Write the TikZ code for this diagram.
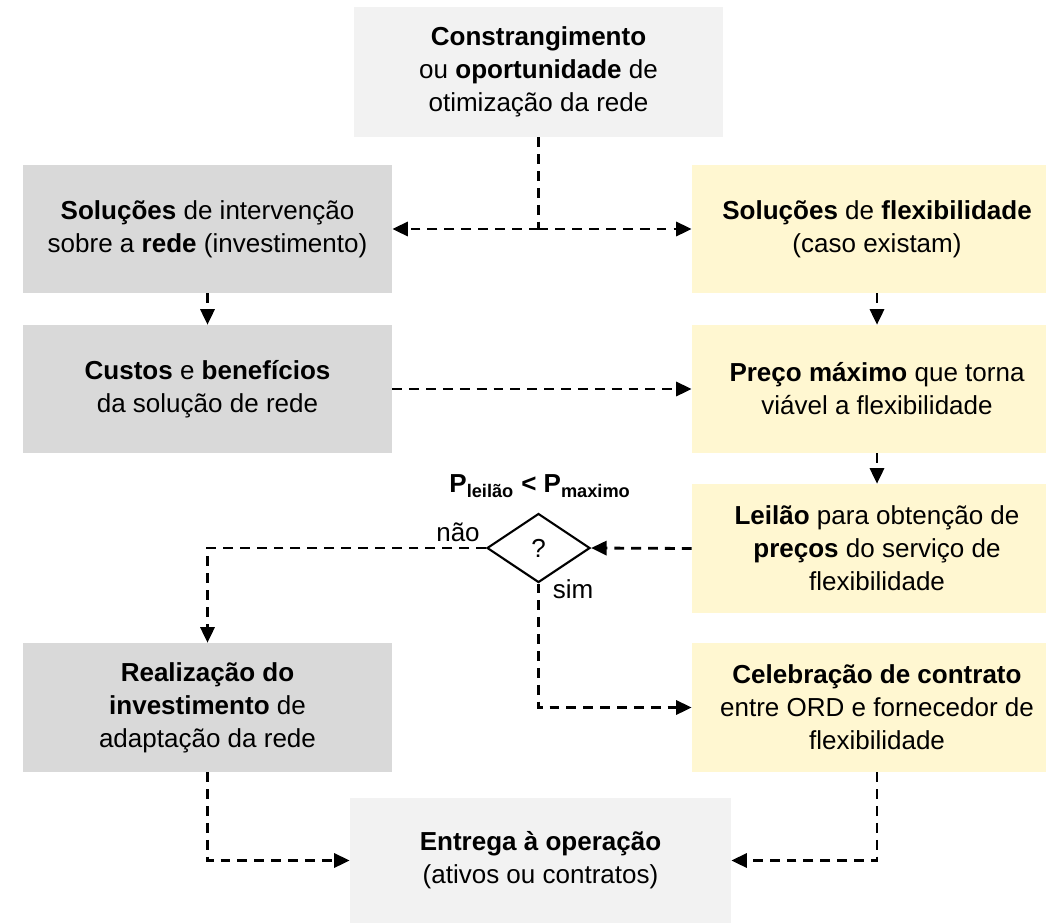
\documentclass[tikz,border=0pt]{standalone}
\usepackage{fontspec}
\setmainfont{Liberation Sans}
\usetikzlibrary{arrows.meta,shapes.geometric}
\definecolor{netgray}{HTML}{D9D9D9}
\definecolor{endgray}{HTML}{F2F2F2}
\definecolor{flexyellow}{HTML}{FFF7D1}
\tikzset{
  box/.style={minimum width=9.225cm, minimum height=3.2cm, align=center, inner sep=0pt},
  netbox/.style={box, fill=netgray},
  flexbox/.style={box, fill=flexyellow, minimum width=9.25cm},
  endbox/.style={box, fill=endgray},
  link/.style={line width=2pt, dash pattern=on 7pt off 5pt, -{Triangle[length=11pt,width=10pt]}}
}
\begin{document}
\begin{tikzpicture}[x=0.025cm, y=-0.025cm,
    every node/.style={font=\fontsize{18.5}{23.5}\selectfont}]
  \clip (0,0) rectangle (1046,923);
  % boxes
  \node[endbox, minimum height=3.25cm] (origem) at (538.5,72)
    {\textbf{Constrangimento}\\ou \textbf{oportunidade} de\\otimização da rede};
  \node[netbox] (rede) at (207.5,229)
    {\textbf{Soluções} de intervenção\\sobre a \textbf{rede} (investimento)};
  \node[flexbox] (flex) at (877,229)
    {\textbf{Soluções} de \textbf{flexibilidade}\\(caso existam)};
  \node[netbox] (custos) at (207.5,389)
    {\textbf{Custos} e \textbf{benefícios}\\da solução de rede};
  \node[flexbox] (preco) at (877,389)
    {\textbf{Preço máximo} que torna\\viável a flexibilidade};
  \node[flexbox, minimum height=3.225cm] (leilao) at (877,548.5)
    {\textbf{Leilão} para obtenção de\\\textbf{preços} do serviço de\\flexibilidade};
  \node[netbox, minimum height=3.225cm] (realiz) at (207.5,707.5)
    {\textbf{Realização do}\\\textbf{investimento} de\\adaptação da rede};
  \node[flexbox, minimum height=3.225cm] (contrato) at (877,707.5)
    {\textbf{Celebração de contrato}\\entre ORD e fornecedor de\\flexibilidade};
  \node[endbox, minimum width=9.525cm, minimum height=3.125cm] (entrega) at (540.5,860.5)
    {\textbf{Entrega à operação}\\(ativos ou contratos)};
  % decision
  \node[diamond, draw, line width=1.5pt, minimum width=2.575cm, minimum height=1.725cm,
    inner sep=0pt] (teste) at (538.5,548) {?};
  \node (cond) at (540,486)
    {\textbf{P\textsubscript{leilão} < P\textsubscript{maximo}}};
  \node (nao) at (458,532) {não};
  \node (sim) at (573,589) {sim};
  % connectors
  \coordinate (split) at (538.5,229);
  \draw[line width=2pt, dash pattern=on 7pt off 5pt] (origem.south) -- (split);
  \draw[link] (split) -- (rede.east);
  \draw[link] (split) -- (flex.west);
  \draw[link] (rede.south) -- (custos.north);
  \draw[link] (flex.south) -- (preco.north);
  \draw[link] (custos.east) -- (preco.west);
  \draw[link] (preco.south) -- (leilao.north);
  \draw[link] (leilao.west) -- (teste.east);
  \draw[link] (teste.west) -| (realiz.north);
  \draw[link] (teste.south) |- (contrato.west);
  \draw[link] (realiz.south) |- (entrega.west);
  \draw[link] (contrato.south) |- (entrega.east);
\end{tikzpicture}
\end{document}
